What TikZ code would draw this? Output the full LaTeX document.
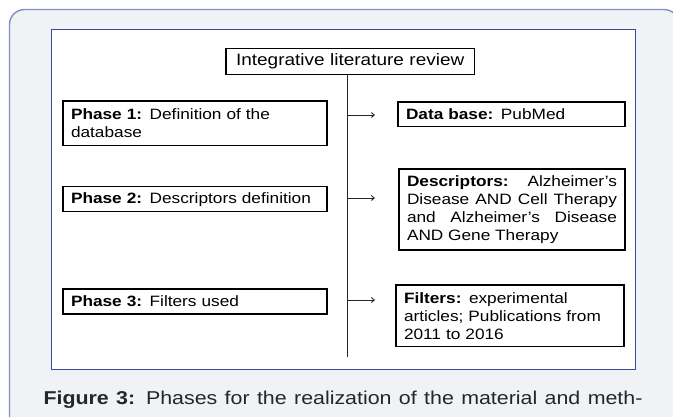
\documentclass[tikz,border=0pt]{standalone}
\usepackage{fontspec}
\setmainfont[FakeStretch=1.15]{Liberation Sans}
\usetikzlibrary{arrows.meta}
\definecolor{pagegray}{HTML}{F0F2F5}
\definecolor{outerblue}{HTML}{7F8FC6}
\definecolor{innerblue}{HTML}{3B4B9B}
\tikzset{
  x=1pt, y=1pt,
  bx/.style={draw=black, line width=1.3pt, fill=white, inner xsep=8pt, inner ysep=0pt,
    font=\fontsize{15}{18}\selectfont, anchor=center},
  lbox/.style={bx, text width=248pt, minimum height=#1, align=left},
  conn/.style={line width=0.9pt, draw=black!85},
  arr/.style={conn, -{Straight Barb[length=3pt,width=5pt]}},
}
\begin{document}
\begin{tikzpicture}
\useasboundingbox (0,0) rectangle (673,-416);
\begin{scope}
\clip (0,0) rectangle (673,-416);
\draw[outerblue, line width=1.4pt, fill=pagegray, rounded corners=15pt] (9.5,-9.5) rectangle (679,-440);
\end{scope}
\draw[innerblue, line width=1pt, fill=white] (51,-29.3) rectangle (635.7,-369);

% title
\node[bx, font=\fontsize{16.5}{19}\selectfont, text width=232.3pt, minimum height=26pt, align=center] (T) at (350.2,-61.3) {Integrative literature review};

% left boxes
\node[lbox=44.7pt] (P1) at (195,-123.4) {\textbf{Phase 1:} Definition of the\\database};
\node[lbox=25pt] (P2) at (195,-199.2) {\textbf{Phase 2:} Descriptors definition};
\node[lbox=25pt] (P3) at (195,-301.5) {\textbf{Phase 3:} Filters used};

% right boxes
\node[bx, text width=211pt, minimum height=24.7pt, align=left] (D1) at (511.5,-114.4) {\textbf{Data base:} PubMed};
\node[bx, text width=210pt, minimum height=81pt, align=justify] (D2) at (512,-209.5)
  {\textbf{Descriptors:} Alzheimer's\linebreak Disease AND Cell Therapy\linebreak and Alzheimer's Disease\linebreak AND Gene Therapy};
\node[bx, text width=212pt, minimum height=61.7pt, align=left] (D3) at (510,-315.9)
  {\textbf{Filters:} experimental\\articles; Publications from\\2011 to 2016};

% trunk
\coordinate (vbot) at (347.5,-357);
\draw[conn] (T.south -| vbot) -- (vbot);

% branches
\coordinate (a1s) at (347.5,-115); \coordinate (a1e) at (375,-115);
\coordinate (a2s) at (347.5,-198); \coordinate (a2e) at (375,-198);
\coordinate (a3s) at (347.5,-300); \coordinate (a3e) at (375,-300);
\draw[arr] (a1s) -- (a1e);
\draw[arr] (a2s) -- (a2e);
\draw[arr] (a3s) -- (a3e);

% caption
\node[anchor=base west, inner sep=0pt, font=\fontsize{18.6}{22}\selectfont, text=black!85] (cap) at (43.3,-404.3)
  {\makebox[599pt][s]{\textbf{Figure 3:} Phases for the realization of the material and meth-}};
\end{tikzpicture}
\end{document}
